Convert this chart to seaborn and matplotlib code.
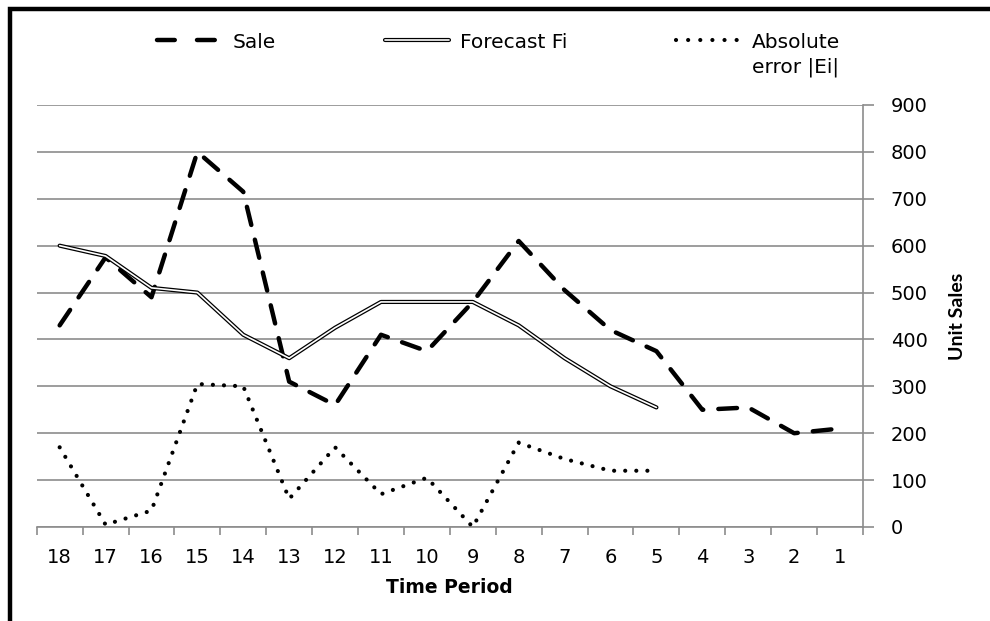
import numpy as np
import pandas as pd
import seaborn as sns
import matplotlib.pyplot as plt
from matplotlib.patches import Rectangle
from matplotlib.legend_handler import HandlerTuple

# data (time periods run 18 -> 1)
periods = [18, 17, 16, 15, 14, 13, 12, 11, 10, 9, 8, 7, 6, 5, 4, 3, 2, 1]
sale = [430, 575, 490, 800, 715, 310, 260, 410, 375, 480, 610, 505, 420, 375, 250, 255, 200, 210]
forecast = [600, 578, 510, 500, 410, 360, 425, 480, 480, 480, 430, 360, 300, 255,
            np.nan, np.nan, np.nan, np.nan]
abs_error = [170, 5, 35, 305, 300, 60, 170, 70, 105, 0, 180, 145, 120, 120,
             np.nan, np.nan, np.nan, np.nan]

df = pd.DataFrame({'pos': np.arange(len(periods)), 'period': periods,
                   'sale': sale, 'forecast': forecast, 'abs_error': abs_error})

sns.set_style('white')
plt.rcParams['font.family'] = ['DejaVu Sans']
plt.rcParams.update({'text.color': 'black', 'axes.labelcolor': 'black',
                     'xtick.labelcolor': 'black', 'ytick.labelcolor': 'black'})

fig = plt.figure(figsize=(9.9, 6.21), dpi=100)
ax = fig.add_axes([36.7 / 990, 1 - 527 / 621, (863 - 36.7) / 990, (527 - 105) / 621])

grid_col = '#8c8c8c'

# sale - long thick dashes
sns.lineplot(data=df, x='pos', y='sale', ax=ax, color='black', lw=3.2,
             linestyle=(0, (4.2, 3.4)), dash_capstyle='round', sort=False,
             estimator=None, zorder=3)
# forecast - double line (black outline, white core)
fc = df.dropna(subset=['forecast'])
sns.lineplot(data=fc, x='pos', y='forecast', ax=ax, color='black', lw=3.0,
             sort=False, estimator=None, zorder=4, solid_capstyle='round')
sns.lineplot(data=fc, x='pos', y='forecast', ax=ax, color='white', lw=1.2,
             sort=False, estimator=None, zorder=5, solid_capstyle='round')
# absolute error - round dots
er = df.dropna(subset=['abs_error'])
sns.lineplot(data=er, x='pos', y='abs_error', ax=ax, color='black', lw=3.0,
             linestyle=(0, (0.01, 2.65)), dash_capstyle='round', sort=False,
             estimator=None, zorder=3)

ax.set_xlim(-0.5, len(periods) - 0.5)
ax.set_ylim(0, 900)
ax.set_yticks(range(0, 901, 100))
ax.yaxis.grid(True, color=grid_col, lw=1.2)
ax.xaxis.grid(False)

# tick marks between categories, labels at category centers
ax.set_xticks(np.arange(-0.5, len(periods), 1.0))
ax.set_xticklabels([])
ax.set_xticks(df['pos'], minor=True)
ax.set_xticklabels([str(p) for p in periods], minor=True, fontsize=14)
ax.tick_params(axis='x', which='major', direction='out', length=6, width=1.2,
               color=grid_col, bottom=True)
ax.tick_params(axis='x', which='minor', length=0, pad=15)

ax.yaxis.tick_right()
ax.yaxis.set_label_position('right')
ax.tick_params(axis='y', direction='out', length=8, width=1.2, color=grid_col,
               right=True, left=False, pad=12, labelsize=14)

for side in ['top', 'left']:
    ax.spines[side].set_visible(False)
for side in ['bottom', 'right']:
    ax.spines[side].set_color(grid_col)
    ax.spines[side].set_linewidth(1.2)

ax.set_xlabel('Time Period', fontsize=13.5, fontweight='bold', labelpad=8)
ax.set_ylabel('Unit Sales', fontsize=14, fontweight='bold', labelpad=15,
              family=['Lato', 'DejaVu Sans'])

# legend along the top
h_sale = plt.Line2D([], [], color='black', lw=3.2, linestyle=(0, (4.0, 5.0)),
                    dash_capstyle='round')
h_fc_out = plt.Line2D([], [], color='black', lw=3.0, solid_capstyle='round')
h_fc_in = plt.Line2D([], [], color='white', lw=1.2, solid_capstyle='round')
h_err = plt.Line2D([], [], color='black', lw=3.0, linestyle=(0, (0.01, 2.9)),
                   dash_capstyle='round')
leg = fig.legend([h_sale, (h_fc_out, h_fc_in), h_err],
                 ['Sale', 'Forecast Fi', 'Absolute'],
                 handler_map={tuple: HandlerTuple(ndivide=1)},
                 loc='center left', bbox_to_anchor=(139 / 990, 1 - 42 / 621),
                 ncol=3, frameon=False, fontsize=14.5, handlelength=3.2,
                 handletextpad=0.55, columnspacing=5.4)
# second line of the wrapped error label
fig.text(752 / 990, 1 - 67 / 621, 'error |Ei|', fontsize=14.5, va='center',
         ha='left')

# chart-area frame (thick black border, cut off right and bottom)
fig.patches.append(Rectangle((10 / 990, -0.2), 1.3, 1 - 8.5 / 621 + 0.2,
                             transform=fig.transFigure, fill=False,
                             edgecolor='black', lw=3.2, zorder=10))

fig.savefig('out.png', dpi=100)
